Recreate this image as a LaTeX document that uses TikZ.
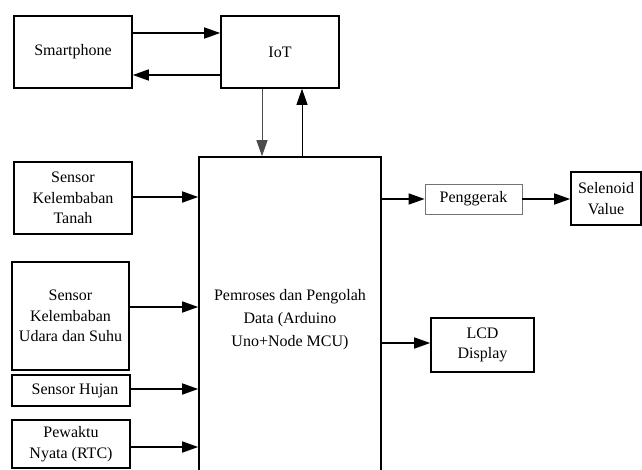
\documentclass[tikz,border=0pt]{standalone}
\usepackage{fontspec}
\IfFontExistsTF{LiberationSerif-Regular.ttf}
  {\newfontfamily\timesfont{LiberationSerif-Regular.ttf}}
  {\newfontfamily\timesfont{Liberation Serif}}
\usetikzlibrary{positioning,arrows.meta}

\begin{document}
\begin{tikzpicture}[x=1pt,y=-1pt,>={Triangle[length=16pt,width=11pt]},
  font=\timesfont\fontsize{16}{20.5}\selectfont,
  blok/.style={draw,line width=1.6pt,inner sep=0pt,align=center},
  panah/.style={->,line width=1.5pt},
  panahtipis/.style={->,line width=0.9pt}]
\useasboundingbox (0,0) rectangle (642,469);
% smartphone + iot
\node[blok,minimum width=118pt,minimum height=72pt] (hp) at (73,52) {Smartphone};
\node[blok,minimum width=118pt,minimum height=72pt] (iot) at (280,52) {IoT};
\draw[panah] ([yshift=19pt]hp.east) -- ([yshift=19pt]iot.west);
\draw[panah] ([yshift=-23pt]iot.west) -- ([yshift=-23pt]hp.east);
% main block (runs past the bottom edge)
\node[blok,minimum width=182pt,minimum height=325pt,font=\timesfont\fontsize{16}{23}\selectfont] (olah) at (290,319.5)
  {Pemroses dan Pengolah\\Data (Arduino\\Uno+Node MCU)};
\draw[panahtipis,black!70] (iot.south -| 262,0) -- (olah.north -| 262,0);
\draw[panahtipis] (olah.north -| 302,0) -- (iot.south -| 302,0);
% sensors
\node[blok,minimum width=118pt,minimum height=72pt] (tanah) at (73,198) {Sensor\\Kelembaban\\Tanah};
\node[blok,minimum width=117pt,minimum height=108pt] (udara) at (70.5,316) {Sensor\\Kelembaban\\Udara dan Suhu};
\node[blok,minimum width=118pt,minimum height=31pt] (hujan) at (71,390.5) {\hspace*{8pt}Sensor Hujan};
\node[blok,minimum width=118pt,minimum height=48pt] (rtc) at (71,444) {Pewaktu\\Nyata (RTC)};
\draw[panah] (tanah.east |- 0,197) -- (olah.west |- 0,197);
\draw[panah] (udara.east |- 0,307) -- (olah.west |- 0,307);
\draw[panah] (hujan.east |- 0,389) -- (olah.west |- 0,389);
\draw[panah] (rtc.east |- 0,447) -- (olah.west |- 0,447);
% outputs
\node[blok,draw=black!55,line width=0.8pt,minimum width=97pt,minimum height=30pt] (gerak) at (473.5,199) {Penggerak};
\node[blok,minimum width=70pt,minimum height=53pt] (sol) at (606,198.5) {Selenoid\\Value};
\node[blok,minimum width=103pt,minimum height=54pt] (lcd) at (482.5,345) {LCD\\Display};
\draw[panah] (olah.east |- gerak) -- (gerak.west);
\draw[panah] (gerak.east) -- (sol.west |- gerak);
\draw[panah] (olah.east |- 0,343) -- (lcd.west |- 0,343);
\end{tikzpicture}
\end{document}
